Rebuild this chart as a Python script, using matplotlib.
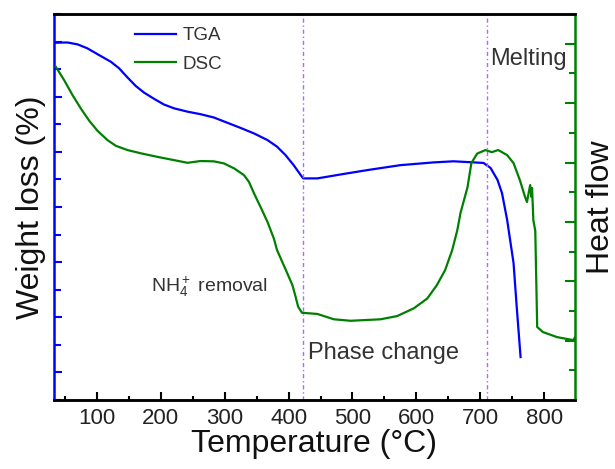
import matplotlib
matplotlib.use('Agg')
import matplotlib.pyplot as plt
from matplotlib.ticker import MultipleLocator

plt.rcParams['font.family'] = ['Liberation Sans', 'DejaVu Sans']
plt.rcParams['mathtext.fontset'] = 'custom'
plt.rcParams['mathtext.rm'] = 'Liberation Sans'
plt.rcParams['mathtext.it'] = 'Liberation Sans'

# TGA curve (left axis, arbitrary units)
tga_temp = [36, 54, 70, 85, 106, 122, 135, 148, 161, 174, 190, 205, 221, 242, 262,
            283, 304, 325, 346, 367, 382, 395, 408, 419, 423, 445, 486, 523, 575,
            627, 658, 690, 705, 716, 727, 734, 742, 752, 757, 763]
tga_val = [12.96, 12.97, 12.9, 12.76, 12.48, 12.27, 12.03, 11.7, 11.39, 11.15, 10.92,
           10.72, 10.58, 10.46, 10.37, 10.25, 10.06, 9.87, 9.67, 9.43, 9.19, 8.89,
           8.52, 8.16, 8.04, 8.04, 8.2, 8.34, 8.52, 8.62, 8.66, 8.62, 8.6, 8.42,
           7.98, 7.5, 6.53, 4.97, 3.37, 1.56]

# DSC curve (right axis, arbitrary units)
dsc_temp = [36, 49, 62, 75, 88, 101, 117, 130, 148, 169, 195, 221, 242, 262, 283,
            299, 315, 330, 338, 346, 356, 367, 377, 382, 390, 398, 406, 411, 415,
            421, 445, 471, 497, 544, 570, 596, 617, 632, 645, 656, 664, 669, 680,
            686, 695, 708, 718, 728, 742, 752, 762, 770, 773, 778, 780, 781, 783,
            786, 789, 798, 820, 845, 848]
dsc_val = [11.22, 10.77, 10.27, 9.82, 9.41, 9.07, 8.75, 8.56, 8.42, 8.31, 8.19, 8.08,
           7.99, 8.05, 8.04, 7.97, 7.8, 7.58, 7.35, 6.96, 6.51, 6.0, 5.44, 5.05,
           4.66, 4.27, 3.87, 3.48, 3.14, 2.94, 2.9, 2.72, 2.67, 2.72, 2.83, 3.09,
           3.42, 3.87, 4.38, 5.05, 5.72, 6.3, 7.17, 7.98, 8.3, 8.42, 8.35, 8.42,
           8.25, 7.98, 7.4, 6.84, 6.67, 7.24, 6.84, 7.14, 6.06, 5.7, 2.46, 2.29,
           2.12, 2.02, 2.1]

# event markers
event_temps = [423, 711]

fig = plt.figure(figsize=(6.15, 4.69), dpi=100)
ax = fig.add_axes([0.0878, 0.147, 0.847, 0.823])
ax2 = ax.twinx()

l1, = ax.plot(tga_temp, tga_val, color='#0000ff', lw=1.6, label='TGA')
l2, = ax2.plot(dsc_temp, dsc_val, color='#008000', lw=1.6, label='DSC')

for t in event_temps:
    ax.axvline(t, color='#b266ff', lw=1.0, ls=(0, (3, 2, 1, 2)))

ax.set_xlim(33, 848)
ax.set_ylim(0, 14)
ax2.set_ylim(0, 13)

ax.xaxis.set_major_locator(MultipleLocator(100))
ax.xaxis.set_minor_locator(MultipleLocator(50))
ax.yaxis.set_major_locator(MultipleLocator(2, offset=1))
ax.yaxis.set_minor_locator(MultipleLocator(1))
ax2.yaxis.set_major_locator(MultipleLocator(2))
ax2.yaxis.set_minor_locator(MultipleLocator(1))

ax.tick_params(axis='x', which='both', direction='in', labelsize=16, width=1.5,
               colors='black', labelcolor='#222222', pad=6)
ax.tick_params(axis='x', which='major', length=6)
ax.tick_params(axis='x', which='minor', length=3)
ax.tick_params(axis='y', which='both', direction='in', color='#0000ff',
               labelleft=False, width=1.5)
ax.tick_params(axis='y', which='major', length=6)
ax.tick_params(axis='y', which='minor', length=5)
ax2.tick_params(axis='y', which='both', direction='in', color='#008000',
                labelright=False, width=1.5)
ax2.tick_params(axis='y', which='major', length=7)
ax2.tick_params(axis='y', which='minor', length=4)

for a in (ax, ax2):
    for s in a.spines.values():
        s.set_linewidth(1.8)
ax.spines['left'].set_color('#0000ff')
ax.spines['right'].set_visible(False)
ax2.spines['right'].set_color('#008000')
ax2.spines['left'].set_visible(False)

ax.set_xlabel('Temperature (°C)', fontsize=23, color='#111111', labelpad=0)
ax.set_ylabel('Weight loss (%)', fontsize=23, color='#111111', labelpad=6)
ax2.set_ylabel('Heat flow', fontsize=23, color='#111111', labelpad=8)

ax.text(716, 12.15, 'Melting', fontsize=17, color='#333333', va='baseline')
ax.text(430, 1.5, 'Phase change', fontsize=17, color='#333333', va='baseline')
ax.text(184, 3.92, 'NH$_4^+$ removal', fontsize=14, color='#333333', va='baseline')

leg = ax.legend(handles=[l1, l2], loc='upper left', bbox_to_anchor=(0.13, 1.0),
                frameon=False, fontsize=13.5, handlelength=2.2, handletextpad=0.35,
                labelspacing=0.6, borderaxespad=0.3)
for txt in leg.get_texts():
    txt.set_color('#333333')

fig.savefig('out.png', dpi=100)
